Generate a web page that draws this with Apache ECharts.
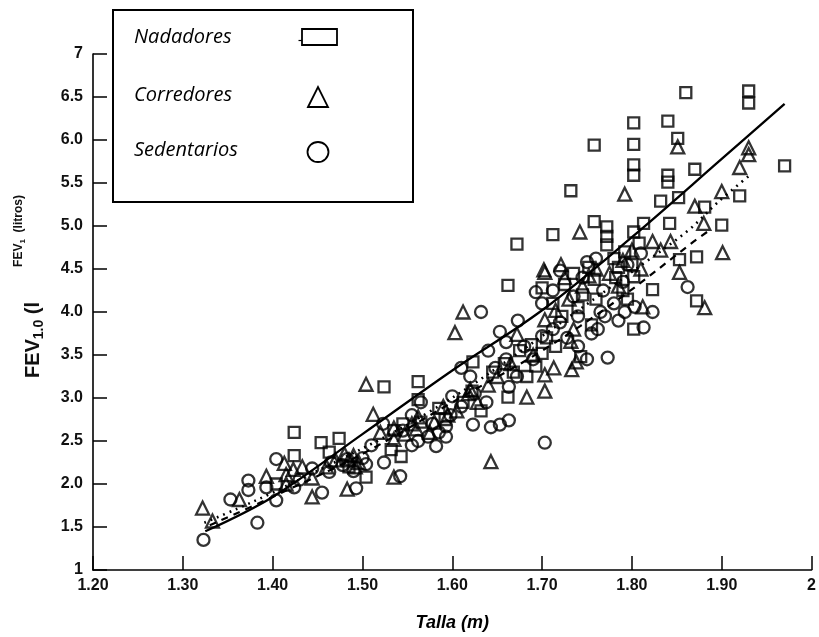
<!DOCTYPE html>
<html>
<head>
<meta charset="utf-8">
<title>FEV1.0 vs Talla</title>
<script src="https://cdn.jsdelivr.net/npm/echarts@6/dist/echarts.min.js"></script>
<style>
  html, body { margin: 0; padding: 0; background: #fff; }
  #chart { width: 819px; height: 637px; }
</style>
</head>
<body>
<div id="chart"></div>
<script>
// Axis ticks
const xTicks = [1.2, 1.3, 1.4, 1.5, 1.6, 1.7, 1.8, 1.9, 2.0];
const yTicks = [1, 1.5, 2, 2.5, 3, 3.5, 4, 4.5, 5, 5.5, 6, 6.5, 7];

// Group names
const groups = ['Nadadores', 'Corredores', 'Sedentarios'];

// Nadadores: [talla (m), FEV1.0 (l)]
const nadadores = [
  [1.404,2.00],[1.424,2.60],[1.424,2.33],[1.454,2.48],[1.463,2.37],[1.474,2.53],
  [1.485,2.20],[1.504,2.08],[1.532,2.40],[1.543,2.32],[1.524,3.13],[1.562,3.19],
  [1.562,2.98],[1.535,2.62],[1.545,2.70],[1.565,2.72],[1.585,2.88],[1.592,2.75],
  [1.612,2.95],[1.622,3.08],[1.632,2.85],[1.623,3.42],[1.662,3.01],[1.645,3.30],
  [1.658,3.40],[1.668,3.30],[1.683,3.25],[1.693,3.37],[1.700,3.52],[1.743,3.48],
  [1.675,3.55],[1.688,3.62],[1.705,3.70],[1.715,3.60],[1.662,4.31],[1.672,4.79],
  [1.712,4.90],[1.732,5.41],[1.758,5.94],[1.758,5.05],[1.700,4.28],[1.712,4.10],
  [1.725,4.32],[1.735,4.45],[1.745,4.20],[1.752,4.52],[1.758,4.38],[1.722,3.95],
  [1.740,4.05],[1.760,4.15],[1.755,3.85],[1.860,6.55],[1.930,6.57],[1.930,6.43],
  [1.802,6.20],[1.840,6.22],[1.802,5.95],[1.851,6.02],[1.802,5.71],[1.802,5.59],
  [1.840,5.59],[1.840,5.51],[1.870,5.66],[1.970,5.70],[1.832,5.29],[1.852,5.33],
  [1.920,5.35],[1.881,5.22],[1.900,5.01],[1.842,5.03],[1.772,4.99],[1.772,4.88],
  [1.802,4.93],[1.813,5.03],[1.772,4.78],[1.853,4.61],[1.872,4.64],[1.872,4.13],
  [1.823,4.26],[1.782,4.40],[1.802,4.41],[1.802,3.80],[1.780,4.62],[1.792,4.70],
  [1.800,4.55],[1.808,4.80],[1.785,4.52],[1.790,4.25],[1.795,4.15]
];

// Corredores
const corredores = [
  [1.322,1.72],[1.333,1.57],[1.363,1.82],[1.393,2.09],[1.413,2.24],[1.415,2.11],
  [1.423,2.17],[1.415,2.00],[1.433,2.20],[1.444,1.85],[1.444,2.07],[1.460,2.20],
  [1.470,2.28],[1.480,2.35],[1.485,2.28],[1.490,2.33],[1.496,2.25],[1.492,2.20],
  [1.483,1.94],[1.535,2.08],[1.504,3.16],[1.512,2.81],[1.520,2.60],[1.535,2.52],
  [1.535,2.65],[1.547,2.58],[1.555,2.70],[1.562,2.78],[1.560,2.64],[1.575,2.60],
  [1.580,2.72],[1.595,2.80],[1.590,2.90],[1.605,2.85],[1.618,3.05],[1.620,3.10],
  [1.628,2.95],[1.643,2.26],[1.640,3.15],[1.650,3.25],[1.665,3.40],[1.683,3.01],
  [1.703,3.08],[1.612,4.00],[1.603,3.76],[1.672,3.74],[1.690,3.50],[1.703,3.27],
  [1.713,3.35],[1.733,3.33],[1.738,3.42],[1.703,3.91],[1.715,4.02],[1.730,4.15],
  [1.721,4.55],[1.703,4.46],[1.725,4.40],[1.735,3.80],[1.732,3.66],[1.742,4.93],
  [1.702,4.49],[1.745,4.30],[1.752,4.42],[1.760,4.50],[1.775,4.45],[1.785,4.30],
  [1.790,4.60],[1.800,4.72],[1.810,4.50],[1.851,5.92],[1.930,5.91],[1.930,5.83],
  [1.920,5.68],[1.792,5.37],[1.900,5.40],[1.870,5.23],[1.880,5.03],[1.901,4.69],
  [1.823,4.82],[1.843,4.82],[1.832,4.72],[1.853,4.46],[1.881,4.05],[1.812,4.06]
];

// Sedentarios
const sedentarios = [
  [1.323,1.35],[1.353,1.82],[1.373,2.04],[1.373,1.93],[1.383,1.55],[1.393,1.96],
  [1.404,2.29],[1.404,1.81],[1.424,1.96],[1.430,2.05],[1.455,1.90],[1.444,2.18],
  [1.463,2.14],[1.465,2.25],[1.478,2.22],[1.483,2.29],[1.490,2.15],[1.493,1.95],
  [1.500,2.30],[1.504,2.23],[1.524,2.25],[1.542,2.09],[1.510,2.45],[1.523,2.70],
  [1.545,2.62],[1.555,2.45],[1.555,2.80],[1.562,2.50],[1.565,2.95],[1.573,2.55],
  [1.578,2.70],[1.582,2.44],[1.585,2.60],[1.593,2.55],[1.593,2.67],[1.598,2.80],
  [1.600,3.02],[1.610,2.90],[1.610,3.35],[1.620,3.25],[1.623,2.69],[1.625,3.05],
  [1.638,2.95],[1.643,2.66],[1.653,2.69],[1.663,2.74],[1.703,2.48],[1.663,3.13],
  [1.648,3.35],[1.660,3.45],[1.672,3.25],[1.640,3.55],[1.660,3.65],[1.632,4.00],
  [1.653,3.77],[1.673,3.90],[1.680,3.60],[1.690,3.45],[1.700,3.72],[1.693,4.23],
  [1.700,4.10],[1.712,3.80],[1.712,4.25],[1.720,3.88],[1.720,4.48],[1.728,3.70],
  [1.735,4.18],[1.740,3.60],[1.740,3.95],[1.745,4.40],[1.750,3.45],[1.750,4.58],
  [1.755,3.75],[1.760,4.62],[1.762,3.80],[1.765,4.00],[1.768,4.25],[1.770,3.95],
  [1.773,3.47],[1.780,4.10],[1.785,3.90],[1.790,4.35],[1.792,4.00],[1.795,4.55],
  [1.803,4.06],[1.810,4.68],[1.813,3.82],[1.823,4.00],[1.862,4.29]
];

// Fitted curves
const fitNadadores = [
  [1.325,1.45],[1.40,1.85],[1.50,2.58],[1.60,3.32],[1.70,4.02],[1.80,4.87],[1.90,5.78],[1.97,6.42]
];
const fitCorredores = [
  [1.324,1.55],[1.36,1.71],[1.40,1.90],[1.52,2.52],[1.573,2.83],[1.626,3.18],
  [1.70,3.72],[1.815,4.58],[1.864,4.96],[1.895,5.27],[1.93,5.58]
];
const fitSedentarios = [
  [1.33,1.52],[1.40,1.85],[1.50,2.35],[1.60,2.95],[1.70,3.55],[1.784,4.14],[1.869,4.82],[1.885,4.94]
];

const chart = echarts.init(document.getElementById('chart'), null, { renderer: 'canvas' });

const tickFont = { fontFamily: 'Liberation Sans', fontWeight: 'bold', fontSize: 16, color: '#111' };
const hollow = { color: 'rgba(255,255,255,0)', borderColor: '#000', borderWidth: 2.3 };

function scatter(name, data, symbol, size) {
  return {
    name, type: 'scatter', data, symbol, symbolSize: size,
    itemStyle: hollow, silent: true, z: 3
  };
}
function fit(name, data, lineType, width) {
  return {
    name, type: 'line', data, smooth: 0.35, showSymbol: false, silent: true, z: 4,
    lineStyle: { color: '#000', width, type: lineType }
  };
}

const legendRows = [
  { label: groups[0], y: 37 },
  { label: groups[1], y: 95 },
  { label: groups[2], y: 150 }
];

chart.setOption({
  animation: false,
  backgroundColor: '#fff',
  grid: { left: 93, right: 4, top: 54, bottom: 66 },
  xAxis: {
    type: 'value', min: 1.2, max: 2.0, interval: 0.1,
    name: 'Talla (m)', nameLocation: 'middle', nameGap: 44,
    nameTextStyle: { fontFamily: 'Liberation Sans', fontWeight: 'bold', fontStyle: 'italic', fontSize: 18, color: '#000' },
    axisLine: { lineStyle: { color: '#000', width: 1.6 } },
    axisTick: { inside: true, length: 14, lineStyle: { color: '#000', width: 1.5 } },
    axisLabel: Object.assign({ margin: 8, formatter: v => (Math.abs(v - 2) < 1e-6 ? '2' : v.toFixed(2)) }, tickFont),
    splitLine: { show: false }
  },
  yAxis: {
    type: 'value', min: 1, max: 7, interval: 0.5,
    axisLine: { show: true, lineStyle: { color: '#000', width: 1.6 } },
    axisTick: { show: true, inside: true, length: 14, lineStyle: { color: '#000', width: 1.5 } },
    axisLabel: Object.assign({ margin: 10, formatter: v => (v === 1 || v === 7 ? String(v) : v.toFixed(1)) }, tickFont),
    splitLine: { show: false }
  },
  series: [
    scatter(groups[0], nadadores, 'rect', 11),
    scatter(groups[1], corredores, 'triangle', 13),
    scatter(groups[2], sedentarios, 'circle', 12),
    fit(groups[0] + ' (ajuste)', fitNadadores, 'solid', 2.3),
    fit(groups[1] + ' (ajuste)', fitCorredores, [1.8, 5], 2.6),
    fit(groups[2] + ' (ajuste)', fitSedentarios, [7, 6], 2.2)
  ],
  graphic: [
    // y-axis titles
    {
      type: 'text', x: 19, y: 231, rotation: Math.PI / 2,
      style: {
        text: '{a|FEV}{s|1}{a|  (litros)}',
        align: 'center', verticalAlign: 'middle',
        rich: {
          a: { fontFamily: 'Liberation Sans', fontWeight: 'bold', fontSize: 12, fill: '#111', lineHeight: 16, verticalAlign: 'middle' },
          s: { fontFamily: 'Liberation Sans', fontWeight: 'bold', fontSize: 8, fill: '#111', lineHeight: 16, verticalAlign: 'bottom' }
        }
      }
    },
    {
      type: 'text', x: 33, y: 340, rotation: Math.PI / 2,
      style: {
        text: '{a|FEV}{s|1.0}{a| (l}',
        align: 'center', verticalAlign: 'middle',
        rich: {
          a: { fontFamily: 'Liberation Sans', fontWeight: 'bold', fontSize: 20, fill: '#111', lineHeight: 26, verticalAlign: 'middle' },
          s: { fontFamily: 'Liberation Sans', fontWeight: 'bold', fontSize: 14, fill: '#111', lineHeight: 26, verticalAlign: 'bottom' }
        }
      }
    },
    // legend box
    {
      type: 'rect', z: 10,
      shape: { x: 113, y: 10, width: 300, height: 192 },
      style: { fill: '#fff', stroke: '#000', lineWidth: 2 }
    },
    ...legendRows.map(r => ({
      type: 'text', z: 11, x: 134, y: r.y,
      style: { text: r.label, fontFamily: 'Open Sans', fontStyle: 'italic', fontSize: 20, fill: '#000', verticalAlign: 'middle' }
    })),
    {
      type: 'rect', z: 11, shape: { x: 302, y: 29, width: 35, height: 16 },
      style: { fill: '#fff', stroke: '#000', lineWidth: 1.8 }
    },
    {
      type: 'line', z: 11, shape: { x1: 298.5, y1: 40.5, x2: 302, y2: 40.5 },
      style: { stroke: '#000', lineWidth: 1.2 }
    },
    {
      type: 'polygon', z: 11, shape: { points: [[308, 107], [318, 87], [328, 107]] },
      style: { fill: '#fff', stroke: '#000', lineWidth: 1.8 }
    },
    {
      type: 'ellipse', z: 11, shape: { cx: 318, cy: 152, rx: 10.5, ry: 10 },
      style: { fill: '#fff', stroke: '#000', lineWidth: 1.8 }
    }
  ]
});
</script>
</body>
</html>
